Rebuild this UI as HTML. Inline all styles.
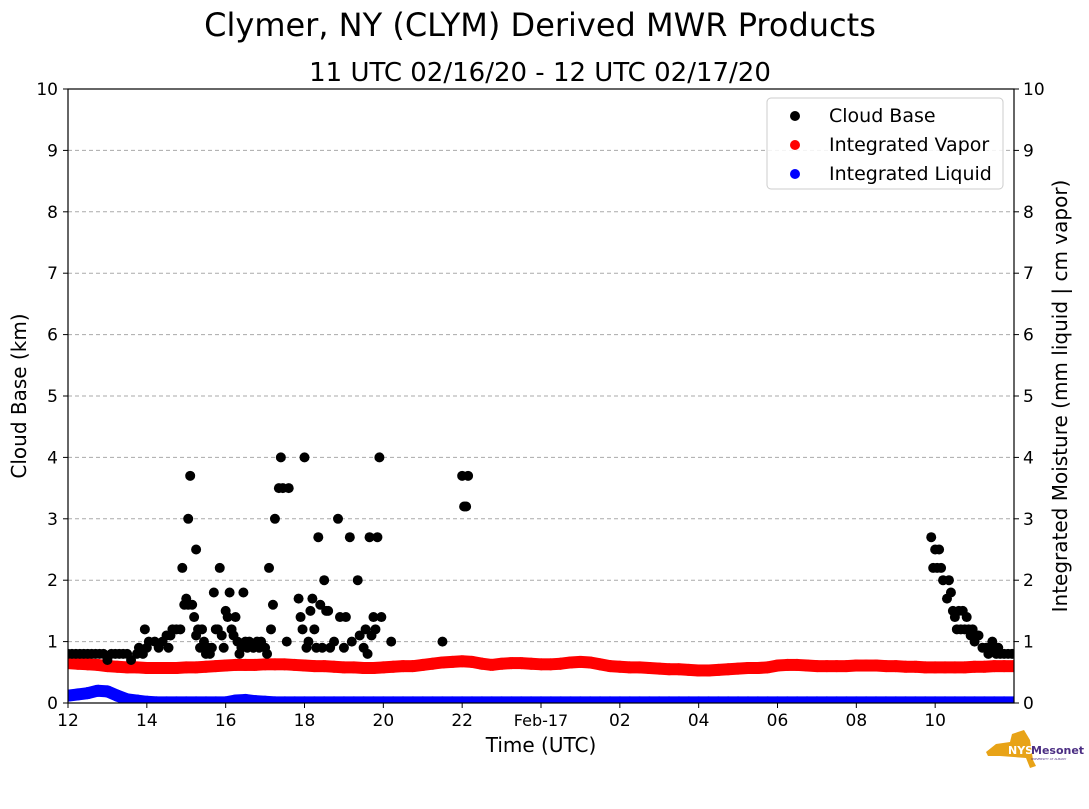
<!DOCTYPE html>
<html><head><meta charset="utf-8"><style>
body{margin:0;background:#fff;width:1089px;height:804px;overflow:hidden;font-family:"Liberation Sans","DejaVu Sans",sans-serif}
</style></head><body>
<svg id="c" width="1089" height="804" xmlns="http://www.w3.org/2000/svg" font-family="DejaVu Sans, Liberation Sans, sans-serif">
<text x="540" y="36" font-size="32" text-anchor="middle">Clymer, NY (CLYM) Derived MWR Products</text>
<text x="540" y="81" font-size="26" text-anchor="middle">11 UTC 02/16/20 - 12 UTC 02/17/20</text>
<g id="grid"></g>
<g id="marks" clip-path="url(#clip)"></g>
<defs><clipPath id="clip"><rect x="68" y="89" width="946" height="614"/></clipPath></defs>
<rect x="68" y="89" width="946" height="614" fill="none" stroke="#000" stroke-width="1.2"/>
<g id="axes"></g>
<text x="26" y="396" font-size="20" text-anchor="middle" transform="rotate(-90 26 396)">Cloud Base (km)</text>
<text x="1067" y="396" font-size="20" text-anchor="middle" transform="rotate(-90 1067 396)">Integrated Moisture (mm liquid | cm vapor)</text>
<text x="541" y="752" font-size="20" text-anchor="middle">Time (UTC)</text>
<g>
<rect x="767" y="98" width="236" height="91" rx="4" fill="#fff" fill-opacity="0.85" stroke="#ccc"/>
<circle cx="795" cy="116" r="5" fill="#000"/><text x="829" y="122" font-size="19">Cloud Base</text>
<circle cx="795" cy="145" r="5" fill="red"/><text x="829" y="151" font-size="19">Integrated Vapor</text>
<circle cx="795" cy="174" r="5" fill="blue"/><text x="829" y="180" font-size="19">Integrated Liquid</text>
</g>
<g>
<path d="M996 744 L1010 742 L1012 734 L1024 730 L1030 740 L1033 760 L1036 766 L1030 768 L1026 758 L1000 756 L988 756 L986 752 Z" fill="#e8a317"/>
<text x="1008" y="754" font-size="11" font-weight="bold" fill="#fff">NYS</text>
<text x="1031" y="754" font-size="11" font-weight="bold" fill="#4b2e83">Mesonet</text>
<text x="1031" y="760" font-size="3" fill="#4b2e83">UNIVERSITY AT ALBANY</text>
</g>
</svg>
<script>
const xTickLabels=["12","14","16","18","20","22","Feb-17","02","04","06","08","10"];
const yTicks=[0,1,2,3,4,5,6,7,8,9,10];
const baseT=[0,0.1,0.2,0.3,0.4,0.5,0.6,0.7,0.8,0.9,1.0,1.1,1.2,1.3,1.4,1.5,1.6,1.75,1.8,1.9,2.0,1.95,2.05,2.2,2.3,2.4,2.5,2.55,2.6,2.65,2.75,2.85,2.9,2.95,3.0,3.05,3.05,3.1,3.15,3.2,3.25,3.25,3.3,3.35,3.4,3.45,3.5,3.55,3.6,3.65,3.7,3.75,3.8,3.85,3.9,3.95,4.0,4.05,4.1,4.15,4.2,4.25,4.3,4.35,4.4,4.45,4.5,4.55,4.6,4.7,4.8,4.85,4.9,5.0,5.05,5.1,5.15,5.2,5.25,5.35,5.4,5.45,5.6,5.55,5.85,5.9,5.95,6.0,6.05,6.1,6.15,6.2,6.25,6.3,6.35,6.4,6.45,6.5,6.55,6.6,6.65,6.75,6.85,6.9,7.0,7.05,7.15,7.2,7.35,7.4,7.5,7.55,7.6,7.65,7.7,7.75,7.8,7.85,7.9,7.95,8.2,9.5,10.0,10.05,10.1,10.15,21.9,21.95,22.05,22.0,22.1,22.15,22.2,22.3,22.35,22.4,22.45,22.5,22.55,22.6,22.7,22.65,22.75,22.8,22.85,22.9,22.95,23.0,23.05,23.1,23.2,23.3,23.35,23.45,23.5,23.55,23.6,23.65,23.75,23.85,23.95];
const baseKm=[0.8,0.8,0.8,0.8,0.8,0.8,0.8,0.8,0.8,0.8,0.7,0.8,0.8,0.8,0.8,0.8,0.7,0.8,0.9,0.8,0.9,1.2,1.0,1.0,0.9,1.0,1.1,0.9,1.1,1.2,1.2,1.2,2.2,1.6,1.7,3.0,1.6,3.7,1.6,1.4,1.1,2.5,1.2,0.9,1.2,1.0,0.8,0.9,0.8,0.9,1.8,1.2,1.2,2.2,1.1,0.9,1.5,1.4,1.8,1.2,1.1,1.4,1.0,0.8,0.9,1.8,1.0,0.9,1.0,0.9,1.0,0.9,1.0,0.9,0.8,2.2,1.2,1.6,3.0,3.5,4.0,3.5,3.5,1.0,1.7,1.4,1.2,4.0,0.9,1.0,1.5,1.7,1.2,0.9,2.7,1.6,0.9,2.0,1.5,1.5,0.9,1.0,3.0,1.4,0.9,1.4,2.7,1.0,2.0,1.1,0.9,1.2,0.8,2.7,1.1,1.4,1.2,2.7,4.0,1.4,1.0,1.0,3.7,3.2,3.2,3.7,2.7,2.2,2.2,2.5,2.5,2.2,2.0,1.7,2.0,1.8,1.5,1.4,1.2,1.5,1.5,1.2,1.2,1.4,1.2,1.1,1.2,1.0,1.1,1.1,0.9,0.9,0.8,1.0,0.9,0.8,0.9,0.8,0.8,0.8,0.8];
// vapor (cm) every 0.25 h from 12 UTC
const vapor=[0.65,0.64,0.63,0.62, 0.60,0.59,0.58,0.58, 0.57,0.57,0.57,0.57, 0.58,0.58,0.59,0.60, 0.61,0.62,0.62,0.62, 0.63,0.63,0.63,0.62, 0.61,0.60,0.60,0.59, 0.58,0.58,0.57,0.57, 0.58,0.59,0.60,0.60, 0.62,0.64,0.66,0.67, 0.68,0.67,0.64,0.62, 0.64,0.65,0.65,0.64, 0.63,0.63,0.64,0.66, 0.67,0.66,0.63,0.60, 0.59,0.58,0.58,0.57, 0.56,0.55,0.55,0.54, 0.53,0.53,0.54,0.55, 0.56,0.57,0.57,0.58, 0.61,0.62,0.62,0.61, 0.60,0.60,0.60,0.60, 0.61,0.61,0.61,0.60, 0.60,0.59,0.59,0.58, 0.58,0.58,0.58,0.58, 0.59,0.59,0.60,0.60, 0.60];
// liquid (mm) every 0.25 h from 12 UTC
const liquid=[0.12,0.14,0.16,0.20, 0.19,0.12,0.06,0.04, 0.02,0.01,0.01,0.01, 0.01,0.01,0.01,0.01, 0.01,0.04,0.05,0.03, 0.02,0.01,0.01,0.01, 0.01,0.01,0.01,0.01, 0.01,0.01,0.01,0.01, 0.01,0.01,0.01,0.01, 0.01,0.01,0.01,0.01, 0.01,0.01,0.01,0.01, 0.01,0.01,0.01,0.01, 0.01,0.01,0.01,0.01, 0.01,0.01,0.01,0.01, 0.01,0.01,0.01,0.01, 0.01,0.01,0.01,0.01, 0.01,0.01,0.01,0.01, 0.01,0.01,0.01,0.01, 0.01,0.01,0.01,0.01, 0.01,0.01,0.01,0.01, 0.01,0.01,0.01,0.01, 0.01,0.01,0.01,0.01, 0.01,0.01,0.01,0.01, 0.01,0.01,0.01,0.01, 0.01];
const NS="http://www.w3.org/2000/svg";
const x=h=>68+h*946/24, y=v=>703-v*61.4;
const g=document.getElementById('grid'),ax=document.getElementById('axes'),m=document.getElementById('marks');
function el(t,a,p){const e=document.createElementNS(NS,t);for(const k in a)e.setAttribute(k,a[k]);p.appendChild(e);return e;}
yTicks.forEach(v=>{
  if(v>0&&v<10){const l=el('line',{x1:68,x2:1014,y1:y(v),y2:y(v),stroke:'#aaa','stroke-dasharray':'4 3'},g);
  
  }
  el('line',{x1:63,x2:68,y1:y(v),y2:y(v),stroke:'#000'},ax);
  el('line',{x1:1014,x2:1019,y1:y(v),y2:y(v),stroke:'#000'},ax);
  const t1=el('text',{x:58,y:y(v)+6,'font-size':17,'text-anchor':'end'},ax);t1.textContent=v;
  
  
  const t2=el('text',{x:1023,y:y(v)+6,'font-size':17},ax);t2.textContent=v;
  
  
});
xTickLabels.forEach((s,i)=>{
  const xx=x(i*2);
  el('line',{x1:xx,x2:xx,y1:703,y2:708,stroke:'#000'},ax);
  const t=el('text',{x:xx,y:726,'font-size':s.length>3?16:17,'text-anchor':'middle'},ax);t.textContent=s;
  
  
});
function band(arr,col,name){
  for(let i=0;i<arr.length;i++){
    const c=el('circle',{cx:x(i*0.25),cy:y(arr[i]),r:6,fill:col},m);
    
    
    if(i<arr.length-1){
      const l=el('line',{x1:x(i*0.25),y1:y(arr[i]),x2:x((i+1)*0.25),y2:y(arr[i+1]),stroke:col,'stroke-width':12},m);
      
      
    }
  }
}
band(liquid,'blue','liquid-point');
band(vapor,'red','vapor-point');
baseT.forEach((t,i)=>{const c=el('circle',{cx:x(t),cy:y(baseKm[i]),r:5,fill:'#000'},m);
  
  });
</script>
</body></html>
